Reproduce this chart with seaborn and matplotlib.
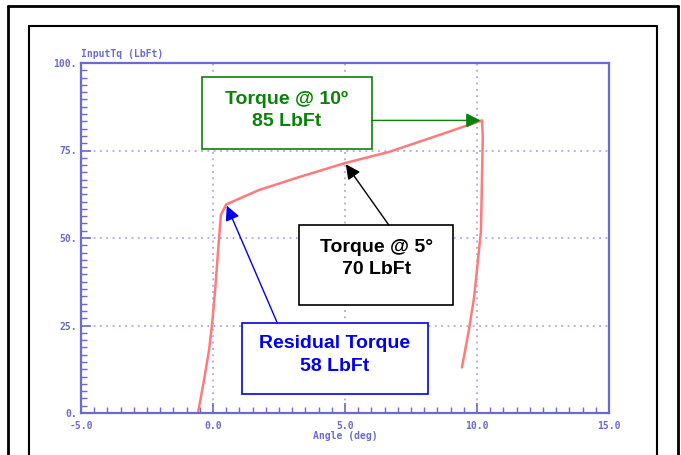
import seaborn as sns
import matplotlib.pyplot as plt
import pandas as pd
from matplotlib.ticker import AutoMinorLocator, FuncFormatter
from matplotlib.lines import Line2D
from matplotlib.patches import Rectangle

# dados (ângulo em graus, torque em LbFt)
angle = [-0.57, -0.34, -0.15, -0.04, 0.08, 0.15, 0.23, 0.30, 0.50,
         1.74, 3.26, 5.00, 6.67, 8.56, 10.19,
         10.22, 10.15, 10.00, 9.89, 9.70, 9.43]
torque = [0.0, 9.4, 18.0, 25.0, 35.0, 42.0, 50.0, 56.6, 59.6,
          63.7, 67.4, 71.4, 74.6, 79.4, 83.6,
          79.0, 52.0, 41.0, 33.0, 24.0, 13.0]

x_ticks = [-5, 0, 5, 10, 15]
y_ticks = [0, 25, 50, 75, 100]

# notas: (texto, índice do ponto, cor)
notes_text = ["Torque @ 10º\n85 LbFt", "Torque @ 5°\n70 LbFt", "Residual Torque\n58 LbFt"]
notes_idx = [14, 11, 8]
notes_color = ["#0a820a", "black", "#0000ee"]

df = pd.DataFrame({"angle": angle, "torque": torque})

sns.set_style("white")
fig = plt.figure(figsize=(6.81, 4.55), dpi=100)
ax = fig.add_axes([81 / 681, 42 / 455, 528 / 681, 350 / 455])

axis_c = "#6a6ad0"
sns.lineplot(data=df, x="angle", y="torque", sort=False, ax=ax,
             color="#ff7a7a", lw=1.8, estimator=None)

ax.set_xlim(-5, 15)
ax.set_ylim(0, 100)
ax.set_xticks(x_ticks)
ax.set_yticks(y_ticks)
ax.xaxis.set_minor_locator(AutoMinorLocator(10))
ax.yaxis.set_minor_locator(AutoMinorLocator(12))
ax.xaxis.set_major_formatter(FuncFormatter(lambda v, p: f"{v:.1f}"))
ax.yaxis.set_major_formatter(FuncFormatter(lambda v, p: f"{int(v)}."))

tick_font = dict(family="DejaVu Sans Mono", size=7, weight="bold")
ax.tick_params(which="both", bottom=True, left=True, top=False, right=False)
ax.tick_params(which="major", direction="in", length=7, width=1.2, color=axis_c,
               labelcolor=axis_c, pad=3)
ax.tick_params(axis="x", which="major", pad=6)
ax.tick_params(which="minor", direction="in", length=4, width=1.0, color=axis_c)
for lab in ax.get_xticklabels() + ax.get_yticklabels():
    lab.set_fontproperties(tick_font)
for s in ax.spines.values():
    s.set_color(axis_c)
    s.set_linewidth(1.6)

ax.grid(True, which="major", color="#a8a8e8", ls=(0, (1, 2.5)), lw=1.3)
ax.set_xlabel("Angle (deg)", color=axis_c, labelpad=0, **tick_font)
ax.set_ylabel("")
ax.text(0, 1.012, "InputTq (LbFt)", transform=ax.transAxes, color=axis_c,
        ha="left", va="bottom", **tick_font)

# caixas das notas (fração dos eixos): x0, y0, x1, y1; altura do texto; saída da seta
boxes = [(0.229, 0.754, 0.551, 0.960), (0.413, 0.309, 0.705, 0.537), (0.305, 0.054, 0.657, 0.257)]
text_y = [0.864, 0.442, 0.166]
arrow_from = [(0.551, 0.836), (0.583, 0.537), (0.371, 0.260)]

for txt, i, c, b, ty, af in zip(notes_text, notes_idx, notes_color, boxes, text_y, arrow_from):
    ax.add_patch(Rectangle((b[0], b[1]), b[2] - b[0], b[3] - b[1], transform=ax.transAxes,
                           fill=True, facecolor="white", edgecolor=c, lw=1.2, zorder=4))
    ax.text((b[0] + b[2]) / 2, ty, txt, transform=ax.transAxes, ha="center", va="center",
            color=c, fontsize=14, fontweight="bold", family="Liberation Sans",
            linespacing=1.42, zorder=5)
    ax.annotate("", xy=(angle[i], torque[i]), xycoords="data",
                xytext=af, textcoords="axes fraction",
                arrowprops=dict(arrowstyle="-|>", color=c, lw=1.0, mutation_scale=22,
                                shrinkA=0, shrinkB=1), zorder=5)

# molduras da página
for x0, y0, x1, lw in [(8, 6, 678, 2.0), (29, 26, 657, 1.5)]:
    fx0, fx1 = x0 / 681, x1 / 681
    fy = 1 - y0 / 455
    for xs, ys in [([fx0, fx0], [0, fy]), ([fx0, fx1], [fy, fy]), ([fx1, fx1], [fy, 0])]:
        fig.add_artist(Line2D(xs, ys, transform=fig.transFigure, color="black", lw=lw))

fig.savefig("out.png", dpi=100)
